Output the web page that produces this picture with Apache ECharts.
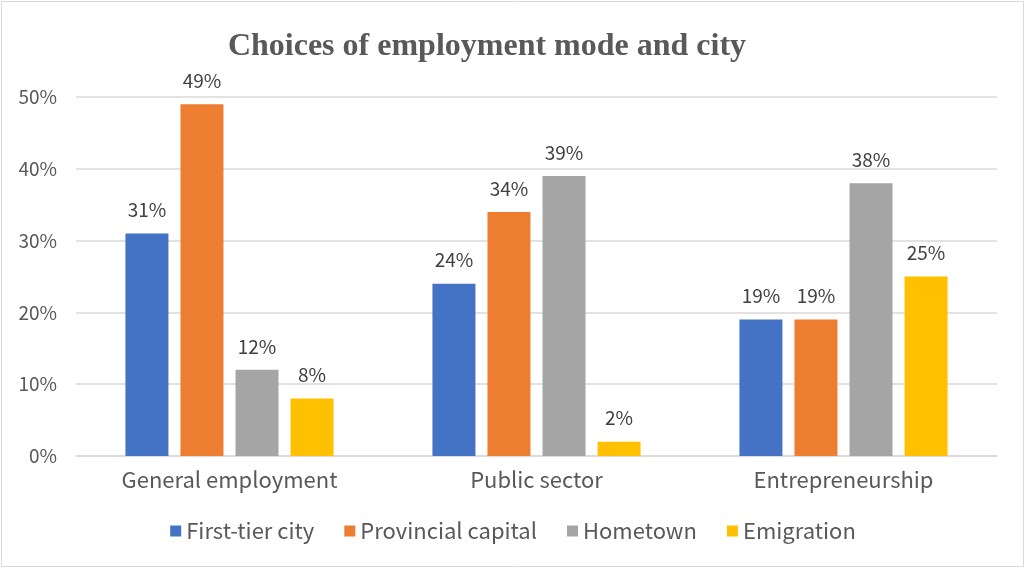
<!DOCTYPE html>
<html>
<head>
<meta charset="utf-8">
<style>
  html, body { margin: 0; padding: 0; background: #fff; }
  #chart { width: 1026px; height: 570px; }
</style>
<script src="https://cdn.jsdelivr.net/npm/echarts@6/dist/echarts.min.js"></script>
</head>
<body>
<div id="chart"></div>
<script>
// Employment mode categories and the share choosing each city type (%)
const categories = ['General employment', 'Public sector', 'Entrepreneurship'];
const firstTierCity = [31, 24, 19];
const provincialCapital = [49, 34, 19];
const hometown = [12, 39, 38];
const emigration = [8, 2, 25];
const seriesNames = ['First-tier city', 'Provincial capital', 'Hometown', 'Emigration'];
const seriesColors = ['#4472C4', '#ED7D31', '#A5A5A5', '#FFC000'];

const textFont = '"Noto Sans CJK SC", "Noto Sans", sans-serif';
const seriesData = [firstTierCity, provincialCapital, hometown, emigration];

const chart = echarts.init(document.getElementById('chart'));
chart.setOption({
  animation: false,
  backgroundColor: '#fff',
  title: {
    text: 'Choices of employment mode and city',
    left: 482,
    top: 26,
    textAlign: 'center',
    textStyle: {
      fontFamily: '"Liberation Serif", "Times New Roman", serif',
      fontWeight: 'bold',
      fontSize: 32,
      color: '#595959'
    }
  },
  graphic: [{
    type: 'rect',
    shape: { x: 1.5, y: 1.5, width: 1022, height: 565 },
    style: { fill: 'none', stroke: '#d9d9d9', lineWidth: 1 },
    silent: true
  }],
  legend: {
    bottom: 23,
    left: 'center',
    itemWidth: 11,
    itemHeight: 11,
    itemGap: 30,
    icon: 'rect',
    textStyle: { fontFamily: textFont, fontSize: 22, color: '#595959', padding: [0, 0, 0, 0] },
    data: seriesNames
  },
  grid: { left: 76, right: 29, top: 97, bottom: 114 },
  xAxis: {
    type: 'category',
    data: categories,
    axisLine: { lineStyle: { color: '#d9d9d9', width: 1.5 } },
    axisTick: { show: false },
    axisLabel: { fontFamily: textFont, fontSize: 22, color: '#595959', margin: 13 }
  },
  yAxis: {
    type: 'value',
    min: 0,
    max: 50,
    interval: 10,
    axisLine: { show: false },
    axisTick: { show: false },
    splitLine: { lineStyle: { color: '#d9d9d9', width: 1.5 } },
    axisLabel: { fontFamily: textFont, fontSize: 19, color: '#595959', margin: 19, formatter: '{value}%' }
  },
  series: seriesNames.map((name, i) => ({
    name: name,
    type: 'bar',
    data: seriesData[i],
    barWidth: 43,
    barGap: '28%',
    itemStyle: { color: seriesColors[i] },
    label: {
      show: true,
      position: 'top',
      distance: 14,
      formatter: '{c}%',
      fontFamily: textFont,
      fontSize: 19,
      color: '#404040'
    }
  }))
});
</script>
</body>
</html>
